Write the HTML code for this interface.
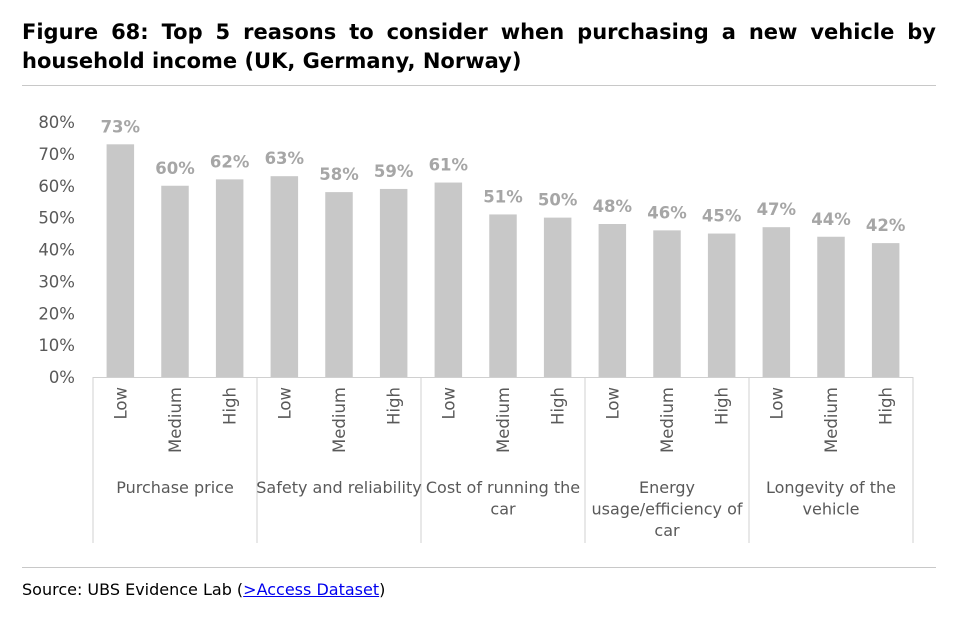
<!DOCTYPE html>
<html><head><meta charset="utf-8"><style>
body{margin:0;background:#fff;font-family:"Liberation Sans",sans-serif;}
#wrap{position:relative;width:976px;height:630px;overflow:hidden;}
#title{position:absolute;left:22px;top:18px;width:914px;font-weight:bold;font-size:21px;line-height:29px;color:#000;text-align:justify;text-align-last:left;font-family:"DejaVu Sans",sans-serif;}
.rule{position:absolute;left:22px;width:914px;height:1px;background:#c8c8c8;}
#source{position:absolute;left:22px;top:580px;font-size:16px;color:#000;font-family:"DejaVu Sans",sans-serif;}
#source a{color:#0000ee;text-decoration:underline;}
</style></head><body>
<div id="wrap">
<div id="title">Figure 68: Top 5 reasons to consider when purchasing a new vehicle by household income (UK, Germany, Norway)</div>
<div class="rule" style="top:85px"></div>
<svg id="chart" width="976" height="630" style="position:absolute;left:0;top:0"></svg>
<div class="rule" style="top:567px"></div>
<div id="source">Source: UBS Evidence Lab (<a>&gt;Access Dataset</a>)</div>
</div>
<script>
const groups=["Purchase price","Safety and reliability","Cost of running the car","Energy usage/efficiency of car","Longevity of the vehicle"];
const groupLines=[["Purchase price"],["Safety and reliability"],["Cost of running the","car"],["Energy","usage/efficiency of","car"],["Longevity of the","vehicle"]];
const levels=["Low","Medium","High"];
const values=[73,60,62,63,58,59,61,51,50,48,46,45,47,44,42];
const yTicks=[0,10,20,30,40,50,60,70,80];
const NS="http://www.w3.org/2000/svg";
const svg=document.getElementById('chart');
const x0=93,x1=913,y0=377,yTop=122,ymax=80;
const n=values.length,step=(x1-x0)/n,bw=27.5;
const F='DejaVu Sans, sans-serif';
const y=v=>y0-(v/ymax)*(y0-yTop);
const xc=i=>x0+step*(i+0.5);
function mk(t,a,txt){const e=document.createElementNS(NS,t);for(const k in a)e.setAttribute(k,a[k]);if(txt!=null)e.textContent=txt;svg.appendChild(e);return e;}
yTicks.forEach(t=>{
 const e=mk('text',{x:75,y:y(t)+6,'text-anchor':'end','font-size':16.5,fill:'#595959','font-family':F},t+'%');
 
 
});
values.forEach((v,i)=>{
 const r=mk('rect',{x:xc(i)-bw/2,y:y(v),width:bw,height:y0-y(v),fill:'#c8c8c8'});
 
 
 const l=mk('text',{x:xc(i),y:y(v)-12,'text-anchor':'middle','font-size':16.5,'font-weight':'bold',fill:'#a6a6a6','font-family':F},v+'%');
 
 
 const tl=mk('text',{transform:`translate(${xc(i)+6},${y0+10}) rotate(-90)`,'text-anchor':'end','font-size':16.5,fill:'#595959','font-family':F},levels[i%3]);
 
 
});
const ax=mk('line',{x1:x0,x2:x1,y1:y0+0.5,y2:y0+0.5,stroke:'#d0d0d0','stroke-width':1});


for(let g=0;g<=groups.length;g++){
 const gx=x0+g*3*step;
 const ln=mk('line',{x1:gx,x2:gx,y1:y0,y2:543,stroke:'#d0d0d0','stroke-width':1});
 
 
}
groupLines.forEach((lines,g)=>{
 const cx=x0+(g*3+1.5)*step;
 lines.forEach((s,k)=>{
  const t=mk('text',{x:cx,y:493+k*21.5,'text-anchor':'middle','font-size':16,fill:'#595959','font-family':F,textLength:null},s);
  t.removeAttribute('textLength');
  
  
 });
});
</script>
</body></html>
